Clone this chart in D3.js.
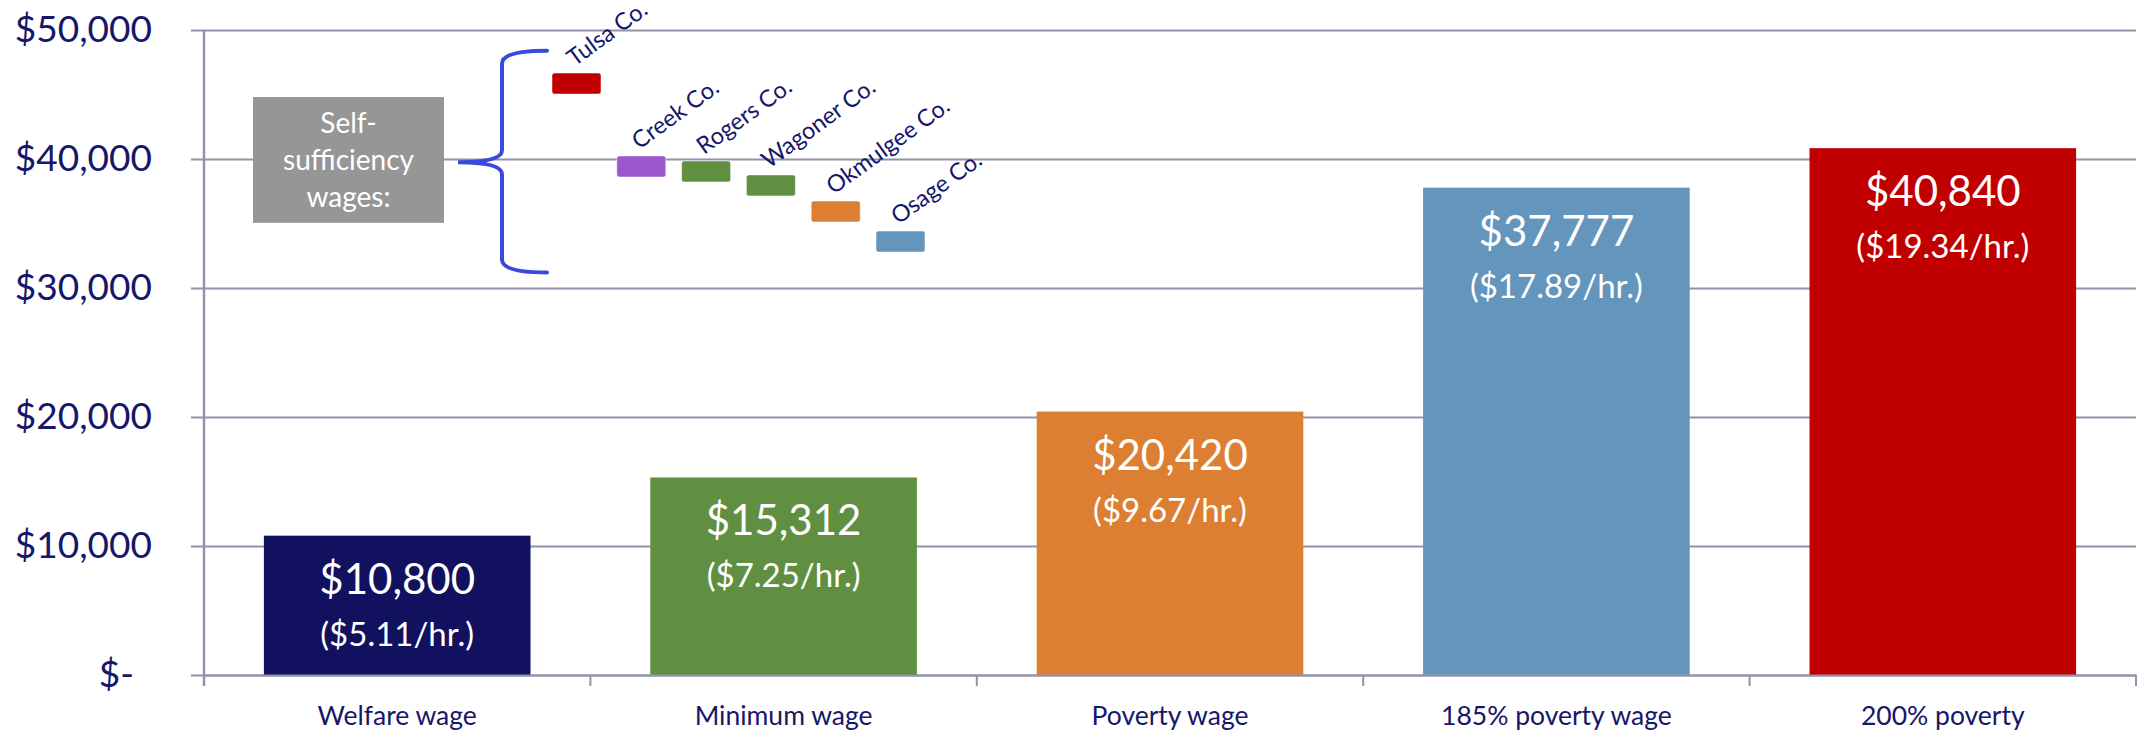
<!DOCTYPE html>
<html>
<head>
<meta charset="utf-8">
<script src="https://cdn.jsdelivr.net/npm/d3@7"></script>
<style>
  html, body { margin: 0; padding: 0; background: #fff; }
  svg { display: block; font-family: Lato, "Open Sans", sans-serif; }
</style>
</head>
<body>
<svg id="chart" width="2138" height="734"></svg>
<script>
// wage categories and annual amounts
var categories = ["Welfare wage", "Minimum wage", "Poverty wage", "185% poverty wage", "200% poverty"];
var annual = [10800, 15312, 20420, 37777, 40840];
var hourly = ["($5.11/hr.)", "($7.25/hr.)", "($9.67/hr.)", "($17.89/hr.)", "($19.34/hr.)"];
var barColors = ["#111160", "#608f41", "#dc7f33", "#6495bc", "#c00000"];

// self-sufficiency wages by county
var counties = ["Tulsa Co.", "Creek Co.", "Rogers Co.", "Wagoner Co.", "Okmulgee Co.", "Osage Co."];
var countyWages = [45850, 39420, 39030, 37950, 35930, 33600];
var countyColors = ["#c00000", "#9b57cc", "#608f41", "#608f41", "#dc7f33", "#6495bc"];

var yTicks = [0, 10000, 20000, 30000, 40000, 50000];

var svg = d3.select("#chart");
var m = {left: 204, right: 2136, top: 30, bottom: 675};
var navy = "#16166a", gridColor = "#9292aa";

var y = d3.scaleLinear().domain([0, 50000]).range([m.bottom, m.top]);
var x = d3.scaleBand().domain(categories).range([m.left, m.right])
  .paddingInner(0.31).paddingOuter(0.155);

// gridlines + y labels
var yAxis = svg.append("g")
  .attr("transform", "translate(" + (m.left - 13) + ",0)")
  .call(d3.axisLeft(y).tickValues(yTicks)
    .tickSize(-(m.right - m.left + 13))
    .tickPadding(39)
    .tickFormat(function(d) { return d === 0 ? "$-" : "$" + d3.format(",")(d); }));
yAxis.attr("font-family", null).attr("font-size", null);
yAxis.select(".domain").remove();
yAxis.selectAll(".tick line").attr("stroke", gridColor).attr("stroke-width", 2);
yAxis.selectAll(".tick text")
  .attr("fill", navy).style("font-size", "37px")
  .attr("dx", function(d) { return d === 0 ? -18 : 0; });

// vertical axis line and category boundary ticks
svg.append("line")
  .attr("x1", m.left).attr("x2", m.left)
  .attr("y1", m.top).attr("y2", m.bottom + 11)
  .attr("stroke", gridColor).attr("stroke-width", 2.5);
svg.selectAll(".cattick").data(d3.range(categories.length + 1)).enter()
  .append("line")
  .attr("x1", function(i) { return m.left + i * x.step(); })
  .attr("x2", function(i) { return m.left + i * x.step(); })
  .attr("y1", m.bottom).attr("y2", m.bottom + 11)
  .attr("stroke", gridColor).attr("stroke-width", 2);

// bars
var bars = svg.selectAll(".bar").data(categories).enter().append("g");
bars.append("rect")
  .attr("x", function(d) { return x(d); })
  .attr("y", function(d, i) { return y(annual[i]); })
  .attr("width", x.bandwidth())
  .attr("height", function(d, i) { return y(0) - y(annual[i]); })
  .attr("fill", function(d, i) { return barColors[i]; });
bars.append("text")
  .attr("x", function(d) { return x(d) + x.bandwidth() / 2; })
  .attr("y", function(d, i) { return y(annual[i]) + 58; })
  .attr("text-anchor", "middle").attr("fill", "#fff").style("font-size", "42px")
  .text(function(d, i) { return "$" + d3.format(",")(annual[i]); });
bars.append("text")
  .attr("x", function(d) { return x(d) + x.bandwidth() / 2; })
  .attr("y", function(d, i) { return y(annual[i]) + 110; })
  .attr("text-anchor", "middle").attr("fill", "#fff").style("font-size", "33px")
  .text(function(d, i) { return hourly[i]; });

// bottom axis labels
var xAxis = svg.append("g")
  .attr("transform", "translate(0," + m.bottom + ")")
  .call(d3.axisBottom(x).tickSize(0).tickPadding(31));
xAxis.attr("font-family", null).attr("font-size", null);
xAxis.select(".domain").attr("stroke", gridColor).attr("stroke-width", 2);
xAxis.selectAll(".tick text").attr("fill", navy).style("font-size", "26.5px");

// self-sufficiency annotation
var boxX = 253, boxW = 191, boxTop = 44800, boxBottom = 35050;
svg.append("rect")
  .attr("x", boxX).attr("y", y(boxTop))
  .attr("width", boxW).attr("height", y(boxBottom) - y(boxTop))
  .attr("fill", "#969696");
svg.append("text")
  .attr("x", boxX + boxW / 2).attr("y", y(boxTop) + 36)
  .attr("text-anchor", "middle").attr("fill", "#fff").style("font-size", "28px")
  .selectAll("tspan").data(["Self-", "sufficiency", "wages:"]).enter()
  .append("tspan")
  .attr("x", boxX + boxW / 2)
  .attr("dy", function(d, i) { return i === 0 ? 0 : 37; })
  .text(function(d) { return d; });

// brace
var braceTip = 458, braceStem = 502, braceArm = 547;
var bTop = y(48400), bMid = y(39750), bBot = y(31200);
svg.append("path")
  .attr("d", "M" + braceArm + "," + bTop +
    "Q" + braceStem + "," + bTop + " " + braceStem + "," + (bTop + 13) +
    "L" + braceStem + "," + (bMid - 12) +
    "Q" + braceStem + "," + bMid + " " + braceTip + "," + bMid +
    "Q" + braceStem + "," + bMid + " " + braceStem + "," + (bMid + 12) +
    "L" + braceStem + "," + (bBot - 13) +
    "Q" + braceStem + "," + bBot + " " + braceArm + "," + bBot)
  .attr("fill", "none").attr("stroke", "#3a48dd").attr("stroke-width", 4)
  .attr("stroke-linecap", "round");

// county markers
var cx = d3.scaleLinear().domain([0, counties.length - 1]).range([576.5, 900.5]);
var mw = 49, mh = 21;
var marks = svg.selectAll(".county").data(counties).enter().append("g");
marks.append("rect")
  .attr("x", function(d, i) { return cx(i) - mw / 2; })
  .attr("y", function(d, i) { return y(countyWages[i]) - mh / 2; })
  .attr("width", mw).attr("height", mh).attr("rx", 2.5)
  .attr("fill", function(d, i) { return countyColors[i]; })
  .attr("stroke", "#fff").attr("stroke-opacity", 0.5).attr("stroke-width", 1);
marks.append("text")
  .attr("transform", function(d, i) {
    return "translate(" + (cx(i) - 2) + "," + (y(countyWages[i]) - mh / 2 - 6) + ") rotate(-36)";
  })
  .attr("fill", navy).style("font-size", "23.5px")
  .text(function(d) { return d; });
</script>
</body>
</html>
